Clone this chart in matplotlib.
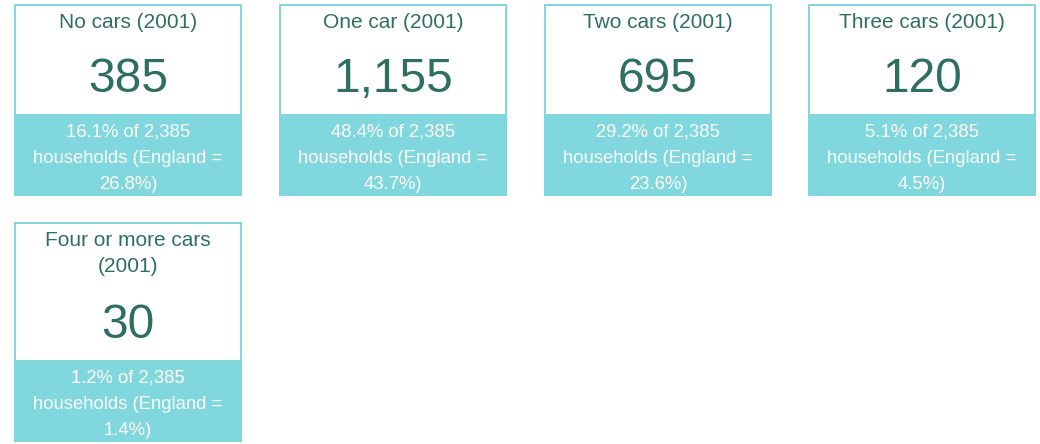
import textwrap
import matplotlib.pyplot as plt
from matplotlib.patches import Rectangle

plt.rcParams['font.family'] = ['Liberation Sans', 'DejaVu Sans']

titles = ["No cars (2001)", "One car (2001)", "Two cars (2001)",
          "Three cars (2001)", "Four or more cars (2001)"]
counts = [385, 1155, 695, 120, 30]
shares = [16.1, 48.4, 29.2, 5.1, 1.2]
england = [26.8, 43.7, 23.6, 4.5, 1.4]
total = 2385

teal = "#80d7dd"
green = "#2f6f61"

fig = plt.figure(figsize=(10.4, 4.44), dpi=100)
ax = fig.add_axes([0, 0, 1, 1])
ax.set_xlim(0, 1040)
ax.set_ylim(444, 0)
ax.axis("off")

col_x = [14, 279, 544, 808]
card_w = 228
row_top = [4, 222]
lh = 26  # line height of small text

for i, t in enumerate(titles):
    x0 = col_x[i % 4]
    y0 = row_top[i // 4]
    cx = x0 + card_w / 2
    tlines = textwrap.wrap(t, 20)
    blines = textwrap.wrap(f"{shares[i]}% of {total:,} households (England = {england[i]}%)", 22)
    white_h = 110 + (len(tlines) - 1) * 28
    # white part with border
    ax.add_patch(Rectangle((x0 + 0.8, y0 + 0.8), card_w - 1.6, white_h, facecolor="white",
                           edgecolor=teal, linewidth=1.4))
    # teal band
    band_top = y0 + white_h
    ax.add_patch(Rectangle((x0, band_top), card_w, len(blines) * lh + 4,
                           facecolor=teal, edgecolor="none"))
    for k, ln in enumerate(tlines):
        ax.text(cx, y0 + 18 + k * 26, ln, ha="center", va="center",
                color=green, fontsize=15)
    ax.text(cx, y0 + 75 + (len(tlines) - 1) * 28, f"{counts[i]:,}", ha="center",
            va="center", color=green, fontsize=34.5)
    for k, ln in enumerate(blines):
        ax.text(cx, band_top + 18 + k * lh, ln, ha="center", va="center",
                color="white", fontsize=13.3)

fig.savefig("out.png", dpi=100)
